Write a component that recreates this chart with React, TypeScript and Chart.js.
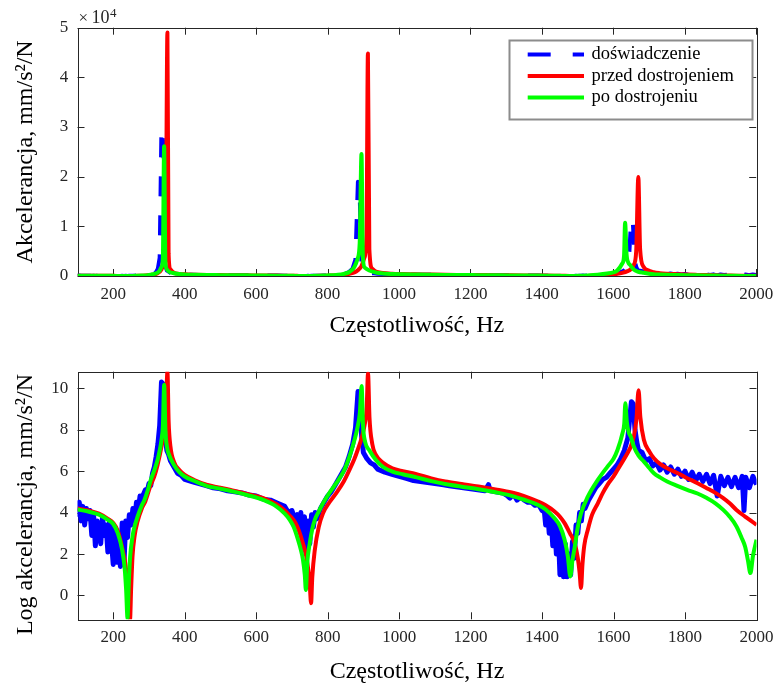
import React, { useEffect, useRef } from 'react';
import { Chart, registerables } from 'chart.js';

Chart.register(...registerables);

const FONT = '"Liberation Serif", "Times New Roman", Times, serif';

// ---- text ----
const seriesLabels = ['doświadczenie', 'przed dostrojeniem', 'po dostrojeniu'];
const xTitle = 'Częstotliwość, Hz';
const yTitleLin = 'Akcelerancja, mm/s²/N';
const yTitleLog = 'Log akcelerancja, mm/s²/N';

// ---- ticks ----
const xTicks = [200, 400, 600, 800, 1000, 1200, 1400, 1600, 1800, 2000];
const yTicksLin = [0, 10000, 20000, 30000, 40000, 50000];
const yTicksLog = [0, 2, 4, 6, 8, 10];

// ---- experiment (natural log of accelerance) ----
const expFreq = [
  100, 105, 110, 115, 120, 125, 130, 135, 140, 145, 150, 155, 160, 165, 170, 175, 180, 185, 190, 195,
  200, 205, 210, 215, 220, 225, 230, 235, 240, 245, 250, 255, 260, 265, 270, 275, 280, 285, 290, 295,
  300, 305, 310, 315, 320, 325, 330, 335, 340, 345, 350, 355, 360, 370, 380, 390, 400, 420, 440, 460,
  480, 500, 520, 540, 560, 580, 600, 620, 640, 660, 680, 690, 700, 710, 715, 720, 725, 730, 735, 740,
  745, 750, 755, 760, 765, 770, 780, 790, 800, 810, 820, 830, 840, 850, 860, 870, 878, 885, 890, 895,
  900, 910, 920, 930, 940, 960, 980, 1000, 1020, 1040, 1060, 1080, 1100, 1120, 1140, 1160, 1180, 1200,
  1220, 1240, 1250, 1255, 1270, 1290, 1300, 1310, 1320, 1330, 1340, 1350, 1360, 1370, 1380, 1390, 1400,
  1405, 1410, 1415, 1420, 1425, 1430, 1435, 1440, 1445, 1450, 1455, 1460, 1465, 1470, 1475, 1480, 1485,
  1490, 1495, 1500, 1505, 1510, 1515, 1520, 1530, 1540, 1550, 1560, 1570, 1580, 1590, 1600, 1610, 1620,
  1630, 1640, 1645, 1650, 1655, 1660, 1665, 1670, 1680, 1690, 1700, 1710, 1720, 1730, 1740, 1750, 1760,
  1770, 1780, 1790, 1800, 1810, 1820, 1830, 1840, 1850, 1860, 1870, 1880, 1890, 1900, 1910, 1920, 1930,
  1940, 1950, 1960, 1965, 1970, 1980, 1990, 2000,
];
const expLog = [
  3.8, 4.5, 3.6, 4.3, 3.4, 4.2, 3.7, 4.1, 2.9, 3.9, 2.4, 3.6, 3.2, 2.5, 3.8, 2.9, 3.4, 2.1, 3.6, 2.6,
  1.5, 3.3, 1.6, 3.0, 1.4, 3.5, 1.5, 3.6, 2.8, 3.9, 3.4, 4.2, 3.6, 4.5, 4.1, 4.8, 4.4, 4.9, 5.1, 5.0,
  5.4, 5.3, 5.9, 6.2, 6.7, 7.3, 8.2, 10.3, 10.2, 7.8, 7.0, 6.8, 6.5, 6.2, 5.9, 5.8, 5.6, 5.5, 5.4, 5.3,
  5.2, 5.15, 5.05, 5.0, 4.95, 4.85, 4.8, 4.65, 4.6, 4.45, 4.3, 4.0, 4.1, 3.6, 3.9, 3.3, 4.0, 2.2, 3.8, 2.0,
  3.6, 2.5, 3.9, 3.3, 4.0, 3.7, 4.2, 4.5, 4.8, 5.0, 5.3, 5.6, 5.9, 6.2, 6.7, 7.3, 8.1, 9.85, 9.7, 7.7,
  6.9, 6.6, 6.4, 6.3, 6.1, 5.95, 5.85, 5.75, 5.65, 5.55, 5.5, 5.45, 5.4, 5.35, 5.3, 5.25, 5.2, 5.15,
  5.1, 5.05, 5.35, 5.05, 5.0, 4.95, 4.85, 4.7, 4.9, 4.6, 4.75, 4.6, 4.5, 4.5, 4.35, 4.4, 4.1,
  4.3, 3.4, 4.2, 3.0, 3.8, 2.4, 3.6, 2.0, 3.3, 1.0, 3.0, 0.9, 2.5, 0.9, 2.0, 1.0, 2.6,
  1.8, 3.4, 3.0, 4.0, 3.6, 4.4, 4.2, 4.6, 4.9, 5.2, 5.4, 5.6, 5.7, 5.9, 6.1, 6.3, 6.6,
  7.0, 7.6, 8.5, 9.35, 9.25, 8.0, 7.4, 7.0, 6.9, 6.5, 6.6, 6.25, 6.4, 6.05, 6.3, 5.95, 6.2,
  5.85, 6.1, 5.75, 6.0, 5.6, 5.95, 5.55, 5.85, 5.5, 5.85, 5.4, 5.8, 4.8, 5.75, 5.3, 5.7, 5.25,
  5.7, 5.2, 5.75, 4.1, 5.7, 5.2, 5.75, 5.35,
];

// ---- model before tuning ----
const preFreq = [
  100, 130, 160, 185, 200, 213, 225, 235, 241, 244, 247, 250, 254, 260, 268, 280, 290, 305, 315, 324,
  335, 342, 347, 351.7, 355, 360, 370, 385, 400, 430, 463, 500, 540, 574, 620, 657, 680, 694, 710, 720,
  731, 740, 746, 750, 753.6, 757, 764, 775, 787, 805, 824, 845, 861, 875, 884, 895, 903, 909, 913, 917,
  925, 935, 955, 981, 1010, 1046, 1090, 1129, 1175, 1222, 1270, 1315, 1350, 1389, 1410, 1435, 1450, 1463,
  1478, 1491, 1500, 1505, 1509, 1513, 1518, 1528, 1540, 1556, 1570, 1583, 1600, 1611, 1625, 1640, 1648,
  1657, 1664, 1670, 1675, 1685, 1700, 1713, 1730, 1750, 1780, 1806, 1835, 1861, 1885, 1907, 1925, 1944,
  1968, 1985, 2000,
];
const preLog = [
  4.2, 4.1, 3.95, 3.7, 3.5, 3.1, 2.3, 1.4, 0.3, -0.4, -1.15, 0.3, 1.9, 2.9, 3.57, 4.2, 4.55, 5.34, 5.75, 6.3,
  7.18, 7.9, 8.8, 10.8, 8.4, 7.2, 6.45, 6.05, 5.82, 5.55, 5.33, 5.2, 5.05, 4.9, 4.7, 4.4, 4.1, 3.85, 3.5, 3.1,
  2.5, 1.9, 1.2, 0.5, -0.37, 0.9, 2.2, 3.3, 3.97, 4.5, 4.94, 5.5, 6.06, 6.6, 7.02, 7.6, 8.2, 9.0, 10.71, 8.6,
  7.3, 6.78, 6.4, 6.14, 6.0, 5.87, 5.65, 5.5, 5.38, 5.26, 5.12, 4.97, 4.8, 4.53, 4.35, 4.05, 3.8, 3.49,
  3.0, 2.53, 1.8, 1.1, 0.36, 1.5, 2.4, 3.17, 3.9, 4.45, 4.95, 5.34, 5.75, 6.06, 6.46, 6.9, 7.18,
  7.7, 8.5, 9.9, 8.6, 7.5, 6.95, 6.62, 6.35, 6.14, 5.9, 5.66, 5.42, 5.18, 4.95, 4.7, 4.45, 4.13,
  3.81, 3.6, 3.41,
];

// ---- model after tuning ----
const postFreq = [
  100, 130, 160, 185, 200, 213, 225, 232, 236, 240, 243, 247, 254, 260, 268, 280, 287, 297, 305, 315,
  324, 330, 335, 339, 342.5, 346, 350, 356, 370, 385, 400, 430, 463, 500, 540, 574, 620, 657, 680, 694,
  705, 717, 725, 731, 736, 739, 743, 750, 757, 764, 775, 787, 805, 824, 845, 861, 875, 884, 890, 895,
  899, 905, 917, 935, 955, 981, 1010, 1046, 1090, 1129, 1175, 1222, 1270, 1315, 1350, 1389, 1410, 1435,
  1450, 1463, 1472, 1479, 1485, 1491, 1500, 1509, 1528, 1556, 1583, 1600, 1611, 1625, 1630, 1633, 1637,
  1642, 1648, 1657, 1670, 1685, 1700, 1713, 1730, 1750, 1780, 1806, 1835, 1861, 1885, 1907, 1925, 1944,
  1958, 1968, 1976, 1983, 1990, 2000,
];
const postLog = [
  4.15, 4.05, 3.9, 3.65, 3.45, 3.0, 2.2, 1.3, 0.3, -1.1, 0.4, 1.8, 2.85, 3.35, 3.8, 4.35, 4.6, 5.1, 5.58, 6.05,
  6.54, 7.0, 7.5, 8.2, 10.17, 8.0, 7.2, 6.8, 6.3, 5.95, 5.74, 5.5, 5.28, 5.15, 5.0, 4.85, 4.61, 4.29, 3.95, 3.65,
  3.3, 2.69, 2.2, 1.72, 1.0, 0.27, 1.6, 2.53, 3.2, 3.65, 4.05, 4.45, 4.95, 5.42, 6.0, 6.7, 7.5, 8.15, 8.8, 10.11,
  8.2, 7.4, 7.0, 6.54, 6.2, 5.98, 5.85, 5.71, 5.52, 5.38, 5.25, 5.13, 4.98, 4.81, 4.62, 4.37, 4.15, 3.73,
  3.35, 2.69, 1.9, 0.92, 1.7, 2.3, 3.3, 3.97, 4.77, 5.58, 6.22, 6.6, 7.02, 7.83, 8.3, 9.28, 8.4,
  7.9, 7.67, 7.18, 6.75, 6.46, 6.15, 5.9, 5.7, 5.5, 5.28, 5.1, 4.92, 4.7, 4.45, 4.13, 3.8, 3.33,
  2.8, 2.36, 1.7, 1.08, 1.9, 2.69,
];

type Kind = 'lin' | 'log';

// The upper panel shows the same responses on a linear scale (exp of the ln values).
function pts(freq: number[], logVals: number[], kind: Kind) {
  return freq.map((f, i) => ({ x: f, y: kind === 'lin' ? Math.exp(logVals[i]) : logVals[i] }));
}

const AXIS_COLOR = '#262626';

const framePlugin = {
  id: 'frameTicks',
  beforeDatasetsDraw(chart: any) {
    const { ctx, chartArea: a, scales } = chart;
    ctx.save();
    ctx.strokeStyle = AXIS_COLOR;
    ctx.lineWidth = 1;
    ctx.strokeRect(Math.round(a.left) + 0.5, Math.round(a.top) + 0.5, Math.round(a.width), Math.round(a.height));
    const tl = 7;
    ctx.beginPath();
    scales.x.ticks.forEach((t: any) => {
      const px = Math.round(scales.x.getPixelForValue(t.value)) + 0.5;
      ctx.moveTo(px, a.bottom); ctx.lineTo(px, a.bottom - tl);
      ctx.moveTo(px, a.top); ctx.lineTo(px, a.top + tl);
    });
    scales.y.ticks.forEach((t: any) => {
      const py = Math.round(scales.y.getPixelForValue(t.value)) + 0.5;
      ctx.moveTo(a.left, py); ctx.lineTo(a.left + tl, py);
      ctx.moveTo(a.right, py); ctx.lineTo(a.right - tl, py);
    });
    ctx.stroke();
    ctx.restore();
  },
};

const legendPlugin = {
  id: 'boxLegend',
  afterDraw(chart: any) {
    const ctx = chart.ctx;
    ctx.save();
    const bx = 509.5, by = 40.5, bw = 243, bh = 79;
    ctx.fillStyle = '#ffffff';
    ctx.fillRect(bx, by, bw, bh);
    ctx.strokeStyle = '#8c8c8c';
    ctx.lineWidth = 2;
    ctx.strokeRect(bx, by, bw, bh);
    const rows = [54.5, 76, 97.5];
    chart.data.datasets.forEach((ds: any, i: number) => {
      const y = rows[i];
      ctx.beginPath();
      ctx.strokeStyle = ds.borderColor;
      ctx.lineWidth = 4;
      ctx.setLineDash(ds.borderDash && ds.borderDash.length ? [23, 22] : []);
      ctx.moveTo(527.7, y);
      ctx.lineTo(584, y);
      ctx.stroke();
      ctx.setLineDash([]);
      ctx.fillStyle = '#000';
      ctx.font = `18.5px ${FONT}`;
      ctx.textAlign = 'left';
      ctx.textBaseline = 'middle';
      ctx.fillText(ds.label, 591.5, y);
    });
    ctx.restore();
  },
};

const exponentPlugin = {
  id: 'exponent',
  afterDraw(chart: any) {
    const ctx = chart.ctx;
    const a = chart.chartArea;
    ctx.save();
    ctx.fillStyle = AXIS_COLOR;
    ctx.textBaseline = 'alphabetic';
    ctx.textAlign = 'left';
    ctx.font = `17px ${FONT}`;
    ctx.fillText('×', a.left + 1, a.top - 5);
    ctx.font = `18px ${FONT}`;
    ctx.fillText('10', a.left + 14, a.top - 4.5);
    const w = ctx.measureText('10').width;
    ctx.font = `13px ${FONT}`;
    ctx.fillText('4', a.left + 14 + w + 0.5, a.top - 11);
    ctx.restore();
  },
};

function buildConfig(kind: Kind): any {
  const isLin = kind === 'lin';
  const datasets = [
    {
      label: seriesLabels[0],
      data: pts(expFreq, expLog, kind),
      borderColor: '#0000ff',
      borderWidth: isLin ? 4 : 5,
      borderDash: isLin ? [20, 19] : [],
      tension: 0,
      order: 3,
    },
    {
      label: seriesLabels[1],
      data: pts(preFreq, preLog, kind),
      borderColor: '#ff0000',
      borderWidth: 4,
      cubicInterpolationMode: 'monotone',
      order: 2,
    },
    {
      label: seriesLabels[2],
      data: pts(postFreq, postLog, kind),
      borderColor: '#00ff00',
      borderWidth: 4,
      cubicInterpolationMode: 'monotone',
      order: 1,
    },
  ];
  const xAxisH = isLin ? 69 : 70.7;
  return {
    type: 'line',
    data: { datasets },
    options: {
      animation: false,
      responsive: false,
      devicePixelRatio: 1,
      parsing: false,
      normalized: true,
      elements: { point: { radius: 0 }, line: { fill: false, borderJoinStyle: 'round' } },
      layout: { padding: { left: 0, right: 20.3, top: isLin ? 27.7 : 26.7, bottom: 0 } },
      plugins: { legend: { display: false }, tooltip: { enabled: false } },
      scales: {
        x: {
          type: 'linear',
          min: 100,
          max: 2000,
          afterBuildTicks: (s: any) => { s.ticks = xTicks.map((v) => ({ value: v })); },
          afterFit: (s: any) => { s.height = xAxisH; },
          grid: { display: false, drawTicks: false },
          border: { display: false },
          ticks: {
            font: { family: FONT, size: 17 },
            color: AXIS_COLOR,
            padding: isLin ? 8.8 : 8.5,
            maxRotation: 0,
            autoSkip: false,
            callback: (v: any) => String(v),
          },
          title: {
            display: true,
            text: xTitle,
            color: '#000',
            font: { family: FONT, size: 24 },
            padding: { top: 0, bottom: isLin ? 4.6 : 3.6 },
          },
        },
        y: {
          type: 'linear',
          min: isLin ? 0 : -1.15,
          max: isLin ? 50000 : 10.8,
          afterBuildTicks: (s: any) => {
            s.ticks = (isLin ? yTicksLin : yTicksLog).map((v) => ({ value: v }));
          },
          afterFit: (s: any) => { s.width = 77.5; },
          grid: { display: false, drawTicks: false },
          border: { display: false },
          ticks: {
            font: { family: FONT, size: 17 },
            color: AXIS_COLOR,
            padding: 9.2,
            callback: (v: any) => String(isLin ? v / 10000 : v),
          },
          title: {
            display: true,
            text: isLin ? yTitleLin : yTitleLog + '   ',
            color: '#000',
            font: { family: FONT, size: 24 },
            padding: { top: 11.6, bottom: 0 },
          },
        },
      },
    },
    plugins: isLin ? [framePlugin, legendPlugin, exponentPlugin] : [framePlugin],
  };
}

function FrfPanel({ kind, top }: { kind: Kind; top: number }) {
  const ref = useRef<HTMLCanvasElement | null>(null);
  useEffect(() => {
    if (!ref.current) return;
    const chart = new Chart(ref.current, buildConfig(kind));
    return () => chart.destroy();
  }, [kind]);
  return (
    <canvas
      ref={ref}
      width={782}
      height={345}
      style={{ position: 'absolute', left: 0, top, width: 782, height: 345, display: 'block' }}
    />
  );
}

export default function App() {
  return (
    <div style={{ position: 'fixed', left: 0, top: 0, width: 782, height: 690, background: '#fff', overflow: 'hidden' }}>
      <FrfPanel kind="lin" top={0} />
      <FrfPanel kind="log" top={345} />
    </div>
  );
}
